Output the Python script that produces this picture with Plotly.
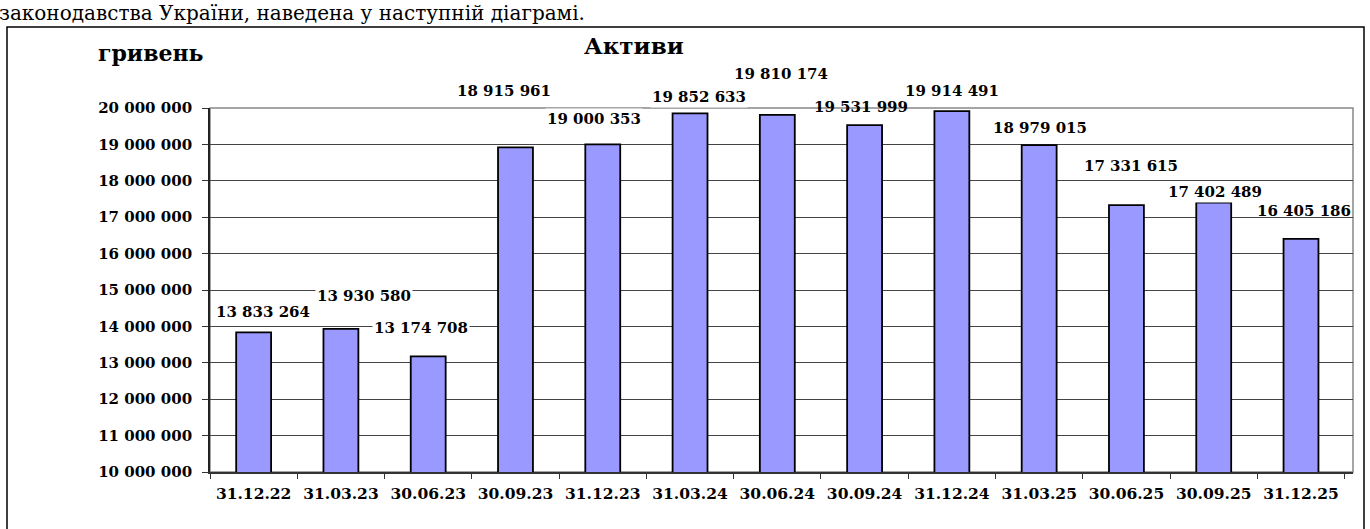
import plotly.graph_objects as go

categories = ["31.12.22", "31.03.23", "30.06.23", "30.09.23", "31.12.23", "31.03.24",
              "30.06.24", "30.09.24", "31.12.24", "31.03.25", "30.06.25", "30.09.25", "31.12.25"]
assets = [13833264, 13930580, 13174708, 18915961, 19000353, 19852633,
          19810174, 19531999, 19914491, 18979015, 17331615, 17402489, 16405186]

# label offsets (pixels) relative to bar top, as placed in the original chart
label_dx = [9, 23, -7, -11, -9, 9, 4, -4, 0, 1, 5, 1, 3]
label_dy = [20, 33, 28, 56, 25, 16, 41, 18, 20, 17, 39, 11, 28]
label_bg = ["white"] * 7 + ["rgba(0,0,0,0)"] + ["white"] * 4 + ["rgba(0,0,0,0)"]

W, H = 1370, 529
L, R, T, B = 210, 17, 108, 57
pw, ph = W - L - R, H - T - B

def px(x):
    return (x - L) / pw

def py(y):
    return (H - B - y) / ph

FONT = "DejaVu Serif"

fig = go.Figure()
fig.add_trace(go.Bar(
    x=categories, y=assets,
    marker=dict(color="#9999FF", line=dict(color="black", width=1.8)),
    hoverinfo="x+y",
))

for c, v, dx, dy, bg in zip(categories, assets, label_dx, label_dy, label_bg):
    fig.add_annotation(
        x=c, y=v, xref="x", yref="y",
        text="<b>" + f"{v:,}".replace(",", " ") + "</b>",
        showarrow=False, xanchor="center", yanchor="middle",
        xshift=dx, yshift=dy, bgcolor=bg, borderpad=1,
        font=dict(family=FONT, size=15, color="black"),
    )

fig.add_annotation(x=px(634), y=py(46), xref="paper", yref="paper",
                   text="<b>Активи</b>", showarrow=False,
                   xanchor="center", yanchor="middle",
                   font=dict(family=FONT, size=23, color="black"))
fig.add_annotation(x=px(151), y=py(53), xref="paper", yref="paper",
                   text="<b>гривень</b>", showarrow=False,
                   xanchor="center", yanchor="middle",
                   font=dict(family=FONT, size=22, color="black"))
fig.add_annotation(x=px(-3), y=py(-1), xref="paper", yref="paper",
                   text="законодавства України, наведена у наступній діаграмі.",
                   showarrow=False, xanchor="left", yanchor="top",
                   font=dict(family=FONT, size=20, color="black"))

# outer frame
fig.add_shape(type="rect", xref="paper", yref="paper",
              x0=px(7), x1=px(1364), y0=py(560), y1=py(27),
              line=dict(color="black", width=1.5), fillcolor="rgba(0,0,0,0)", layer="above")
# plot-area border (right/top)
fig.add_shape(type="rect", xref="paper", yref="paper",
              x0=0, x1=1, y0=0, y1=1,
              line=dict(color="#888888", width=1.5), fillcolor="rgba(0,0,0,0)", layer="below")

fig.update_layout(
    width=W, height=H,
    margin=dict(l=L, r=R, t=T, b=B, pad=0),
    paper_bgcolor="white", plot_bgcolor="white",
    bargap=0.6, showlegend=False,
    separators=". ",
    font=dict(family=FONT, color="black"),
    xaxis=dict(
        type="category", showgrid=False, showline=True, linecolor="#333333", linewidth=1.5,
        ticks="outside", tickson="boundaries", ticklen=5, tickcolor="#333333", tickwidth=1.2,
        tickfont=dict(family=FONT, size=15.5, color="black", weight="bold"),
        ticklabelstandoff=7,
    ),
    yaxis=dict(
        range=[10000000, 20000000], dtick=1000000, tick0=10000000, tickformat=",d",
        showgrid=True, gridcolor="#444444", gridwidth=1,
        showline=True, linecolor="#222222", linewidth=1.8,
        ticks="outside", ticklen=6, tickcolor="#333333", tickwidth=1.2,
        tickfont=dict(family=FONT, size=15, color="black", weight="bold"),
        ticklabelstandoff=7, zeroline=False,
    ),
)

fig.write_html("out.html", config={"displayModeBar": False},
               post_script="document.body.style.margin='0';document.body.style.overflow='hidden';")
